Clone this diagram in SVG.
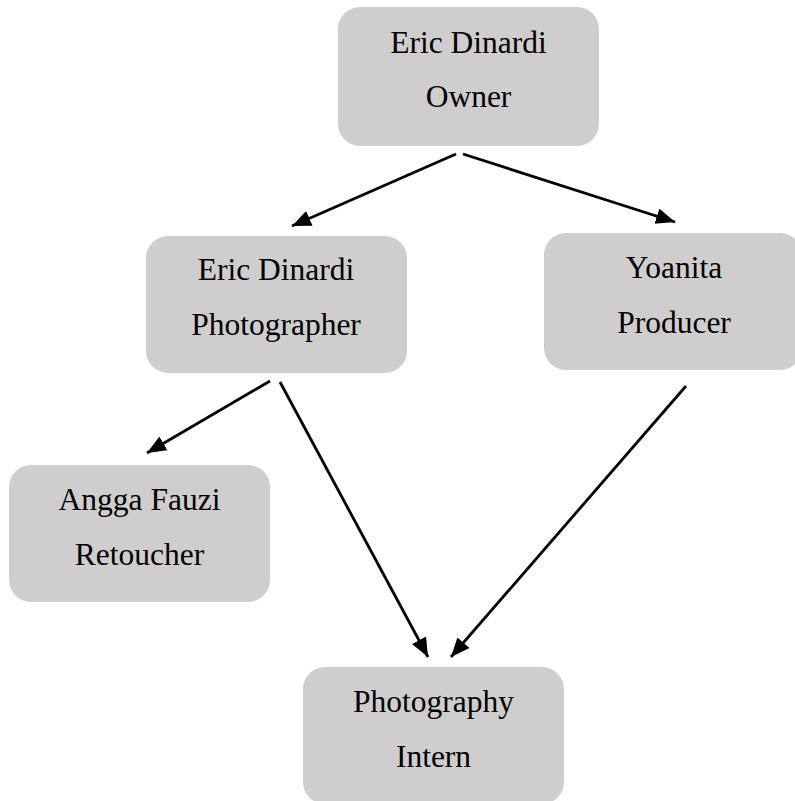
<svg xmlns="http://www.w3.org/2000/svg" width="795" height="801" viewBox="0 0 795 801">
<style>
.box{fill:#cfcdce;stroke:none}
.t{font-family:"Liberation Serif","Times New Roman",serif;font-size:31.5px;fill:#000;text-anchor:middle}
.c{stroke:#000;stroke-width:2.8;fill:none;marker-end:url(#ah)}
</style>
<defs>
<marker id="ah" markerUnits="userSpaceOnUse" markerWidth="22" markerHeight="18" refX="19" refY="8" orient="auto">
<path d="M0,0 L19,8 L0,16 Z" fill="#000"/>
</marker>
</defs>
<rect width="795" height="801" fill="#fff"/>
<g id="owner">
<rect class="box" x="338" y="7" width="261" height="139" rx="22"/>
<text class="t" x="468.5" y="53">Eric Dinardi</text>
<text class="t" x="468.5" y="107">Owner</text>
</g>
<g id="photographer">
<rect class="box" x="146" y="236" width="261" height="137" rx="22"/>
<text class="t" x="276" y="280">Eric Dinardi</text>
<text class="t" x="276" y="335">Photographer</text>
</g>
<g id="producer">
<rect class="box" x="544" y="233" width="258" height="137" rx="22"/>
<text class="t" x="674" y="278">Yoanita</text>
<text class="t" x="674" y="333">Producer</text>
</g>
<g id="retoucher">
<rect class="box" x="9" y="465" width="261" height="137" rx="22"/>
<text class="t" x="139.5" y="510">Angga Fauzi</text>
<text class="t" x="139.5" y="565">Retoucher</text>
</g>
<g id="intern">
<rect class="box" x="303" y="667" width="261" height="137" rx="22"/>
<text class="t" x="433.5" y="712">Photography</text>
<text class="t" x="433.5" y="767">Intern</text>
</g>
<g id="connectors">
<line class="c" x1="456" y1="154" x2="292" y2="226"/>
<line class="c" x1="463" y1="154" x2="675" y2="222"/>
<line class="c" x1="270" y1="381" x2="147" y2="453"/>
<line class="c" x1="280" y1="382" x2="428" y2="657"/>
<line class="c" x1="686" y1="386" x2="451" y2="657"/>
</g>
</svg>
